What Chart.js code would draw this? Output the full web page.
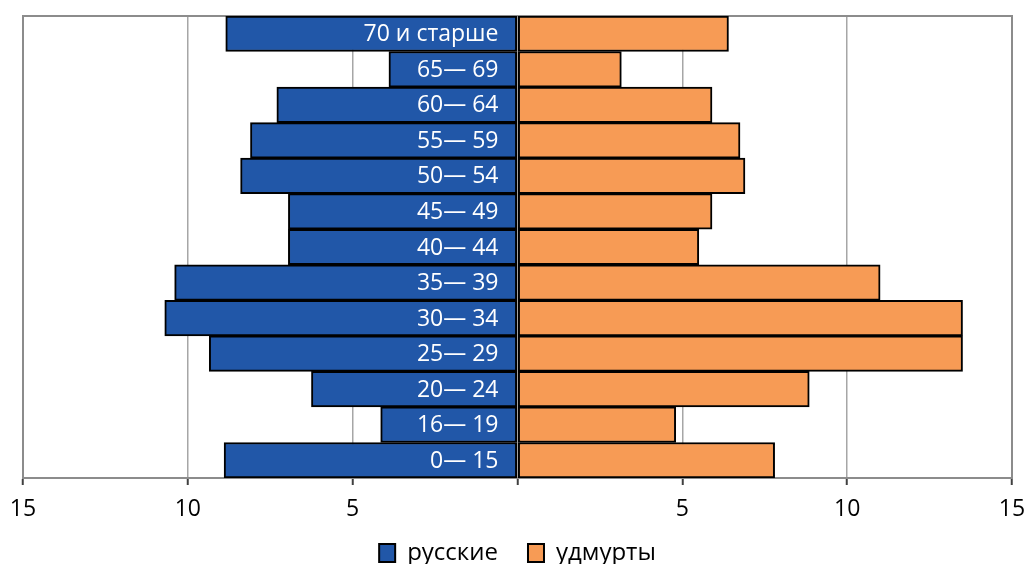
<!DOCTYPE html>
<html>
<head>
<meta charset="utf-8">
<script src="https://cdn.jsdelivr.net/npm/chart.js@4.4.1/dist/chart.umd.min.js"></script>
<style>
  html, body { margin: 0; padding: 0; background: #fff; }
  #wrap { width: 1027px; height: 564px; position: relative; }
</style>
</head>
<body>
<div id="wrap"><canvas id="pyramidChart"></canvas></div>
<script>
// age groups, top to bottom
const ageGroups = ['70 и старше', '65— 69', '60— 64', '55— 59', '50— 54', '45— 49', '40— 44',
  '35— 39', '30— 34', '25— 29', '20— 24', '16— 19', '0— 15'];
// share of each age group, %
const russians = [8.85, 3.9, 7.3, 8.1, 8.4, 6.95, 6.95, 10.4, 10.7, 9.35, 6.25, 4.15, 8.9];
const udmurts = [6.4, 3.15, 5.9, 6.75, 6.9, 5.9, 5.5, 11.0, 13.5, 13.5, 8.85, 4.8, 7.8];
const xTicks = [-15, -10, -5, 0, 5, 10, 15];

const FONT = '"Open Sans", sans-serif';

// grey frame around the plot area
const frame = {
  id: 'frame',
  // x labels hang into the legend's empty top padding, so don't clip them at the axis box
  afterLayout(chart) { chart.scales.x.bottom = chart.height; },
  beforeDatasetsDraw(chart) {
    const { ctx, chartArea: a } = chart;
    ctx.save();
    ctx.strokeStyle = '#8c8c8c';
    ctx.lineWidth = 2;
    ctx.strokeRect(a.left, a.top, a.right - a.left, a.bottom - a.top);
    ctx.restore();
  }
};

// age labels inside the blue bars, right aligned at zero
const ageLabels = {
  id: 'ageLabels',
  afterDatasetsDraw(chart) {
    const { ctx, scales: { x, y } } = chart;
    ctx.save();
    ctx.fillStyle = '#fff';
    ctx.font = '23px ' + FONT;
    ctx.textAlign = 'right';
    ctx.textBaseline = 'middle';
    ageGroups.forEach((g, i) => ctx.fillText(g, x.getPixelForValue(0) - 19, y.getPixelForValue(i) + 1));
    ctx.restore();
  }
};

new Chart(document.getElementById('pyramidChart').getContext('2d'), {
  type: 'bar',
  data: {
    labels: ageGroups,
    datasets: [
      { label: 'русские', data: russians.map(v => -v), backgroundColor: '#2157a8', borderColor: '#000', borderWidth: 2, borderSkipped: false },
      { label: 'удмурты', data: udmurts, backgroundColor: '#f79b55', borderColor: '#000', borderWidth: 2, borderSkipped: false }
    ]
  },
  options: {
    indexAxis: 'y',
    responsive: true, maintainAspectRatio: false,
    animation: false,
    categoryPercentage: 1, barPercentage: 1,
    layout: { padding: { left: 23, right: 15, top: 16, bottom: -11 } },
    plugins: {
      tooltip: { enabled: false },
      legend: {
        position: 'bottom',
        labels: { color: '#000', font: { family: FONT, size: 24 }, boxWidth: 16, boxHeight: 18, padding: 30 }
      }
    },
    scales: {
      x: {
        min: -15, max: 15,
        afterBuildTicks: axis => { axis.ticks = xTicks.map(v => ({ value: v })); },
        // keep the plot edges fixed; labels overlap the legend's blank padding
        afterFit: s => { s.paddingLeft = 0; s.paddingRight = 0; s.height = 33; },
        grid: { color: '#a6a6a6', lineWidth: 1.5, tickLength: 7, tickColor: '#404040', tickWidth: 2 },
        border: { color: '#404040', width: 2 },
        ticks: { color: '#000', font: { family: FONT, size: 23 }, padding: 11, maxRotation: 0, callback: v => v === 0 ? '' : Math.abs(v) }
      },
      y: {
        display: false,
        stacked: true
      }
    }
  },
  plugins: [frame, ageLabels]
});
</script>
</body>
</html>
